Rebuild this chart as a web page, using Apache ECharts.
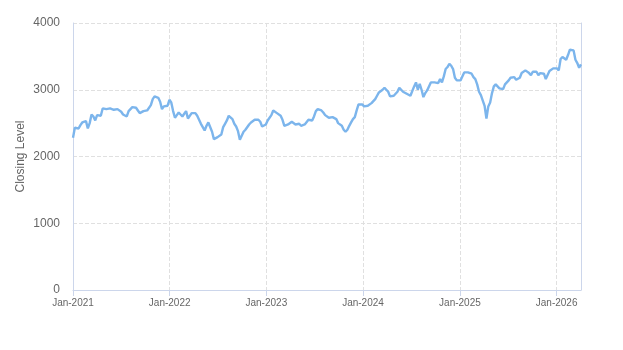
<!DOCTYPE html>
<html>
<head>
<meta charset="utf-8">
<script src="https://cdn.jsdelivr.net/npm/echarts@6/dist/echarts.min.js"></script>
<style>
  html, body { margin: 0; padding: 0; background: #fff; }
  #chart { width: 623px; height: 350px; }
</style>
</head>
<body>
<div id="chart"></div>
<script>
// Weekly closing levels, starting on the first day of 2021.
const startDate = '2021-01-01';
const stepDays = 7;
const closes = [
  2280, 2430, 2410, 2420, 2470, 2510, 2490, 2530, 2420, 2500,
  2630, 2600, 2540, 2620, 2640, 2610, 2720, 2730, 2710, 2690,
  2720, 2730, 2700, 2690, 2710, 2710, 2670, 2630, 2620, 2600,
  2680, 2700, 2740, 2760, 2730, 2690, 2650, 2660, 2680, 2690,
  2690, 2710, 2770, 2860, 2900, 2910, 2880, 2820, 2710, 2750,
  2730, 2760, 2850, 2810, 2680, 2580, 2620, 2660, 2650, 2600,
  2640, 2680, 2570, 2580, 2650, 2660, 2650, 2610, 2550, 2490,
  2440, 2390, 2460, 2510, 2490, 2370, 2260, 2260, 2290, 2310,
  2330, 2440, 2490, 2540, 2610, 2600, 2560, 2490, 2450, 2380,
  2250, 2250, 2370, 2400, 2420, 2480, 2510, 2530, 2550, 2570,
  2550, 2520, 2450, 2440, 2480, 2540, 2560, 2620, 2690, 2680,
  2650, 2630, 2610, 2550, 2460, 2460, 2480, 2490, 2520, 2510,
  2480, 2470, 2490, 2460, 2460, 2480, 2480, 2550, 2560, 2540,
  2600, 2680, 2710, 2710, 2690, 2660, 2620, 2600, 2580, 2570,
  2590, 2590, 2560, 2500, 2480, 2460, 2400, 2370, 2400, 2460,
  2510, 2560, 2590, 2690, 2780, 2800, 2780, 2750, 2730, 2760,
  2780, 2800, 2820, 2860, 2910, 2960, 2950, 3000, 3030, 3010,
  2970, 2900, 2880, 2910, 2940, 2970, 3030, 3010, 2970, 2950,
  2940, 2930, 2910, 2920, 3050, 3110, 3000, 3090, 3000, 2890,
  2950, 2990, 3050, 3110, 3100, 3110, 3120, 3100, 3160, 3110,
  3200, 3310, 3340, 3390, 3360, 3310, 3180, 3140, 3150, 3140,
  3160, 3260, 3270, 3260, 3250, 3240, 3190, 3160, 3080, 2970,
  2920, 2930, 2760, 2570, 2750, 2810, 2950, 3050, 3080, 3060,
  3020, 3030, 3010, 3080, 3110, 3140, 3180, 3190, 3190, 3150,
  3140, 3180, 3250, 3270, 3290, 3270, 3250, 3220, 3270, 3290,
  3270, 3220, 3250, 3230, 3240, 3160, 3180, 3280, 3300, 3320,
  3330, 3320, 3290, 3460, 3490, 3480, 3450, 3520, 3600, 3600,
  3590, 3450, 3400, 3330, 3380
];
const yTicks = [0, 1000, 2000, 3000, 4000];
const yTitle = 'Closing Level';

const DAY = 24 * 3600 * 1000;
const t0 = new Date(startDate + 'T00:00:00').getTime();
const seriesData = closes.map((v, i) => [t0 + i * stepDays * DAY, v]);
const tEnd = seriesData[seriesData.length - 1][0];

const font = '"Liberation Sans", Arial, sans-serif';
const axisColor = '#ccd6eb';
const gridColor = '#e0e0e0';

const chart = echarts.init(document.getElementById('chart'), null, { renderer: 'canvas' });
chart.setOption({
  animation: false,
  textStyle: { fontFamily: font },
  grid: { left: 73, right: 42, top: 23, bottom: 60, containLabel: false, outerBoundsMode: 'none' },
  xAxis: {
    type: 'time',
    min: t0,
    max: tEnd,
    minInterval: 365 * DAY,
    splitNumber: 6,
    axisLine: { show: true, lineStyle: { color: axisColor, width: 1 } },
    axisTick: { show: true, length: 6, lineStyle: { color: axisColor } },
    axisLabel: {
      formatter: '{MMM}-{yyyy}',
      color: '#666',
      fontSize: 10,
      fontFamily: font,
      margin: 8,
      showMaxLabel: false,
      hideOverlap: false
    },
    splitLine: { show: true, lineStyle: { color: gridColor, type: 'dashed' } }
  },
  yAxis: [
    {
      type: 'value',
      min: yTicks[0],
      max: yTicks[yTicks.length - 1],
      interval: yTicks[1] - yTicks[0],
      name: yTitle,
      nameLocation: 'middle',
      nameGap: 46,
      nameRotate: 90,
      nameMoveOverlap: false,
      nameTextStyle: { color: '#666', fontSize: 12, fontFamily: font },
      axisLine: { show: true, lineStyle: { color: axisColor } },
      axisTick: { show: false },
      axisLabel: {
        color: '#666', fontSize: 12, fontFamily: font, margin: 13,
        formatter: (v) => String(v)
      },
      splitLine: { show: true, lineStyle: { color: gridColor, type: 'dashed' } }
    },
    {
      type: 'value',
      position: 'right',
      min: yTicks[0],
      max: yTicks[yTicks.length - 1],
      axisLine: { show: true, lineStyle: { color: axisColor } },
      axisTick: { show: false },
      axisLabel: { show: false },
      splitLine: { show: false }
    }
  ],
  series: [{
    type: 'line',
    data: seriesData,
    showSymbol: false,
    symbol: 'none',
    lineStyle: { color: '#7cb5ec', width: 2.4 },
    itemStyle: { color: '#7cb5ec' }
  }]
});
</script>
</body>
</html>
